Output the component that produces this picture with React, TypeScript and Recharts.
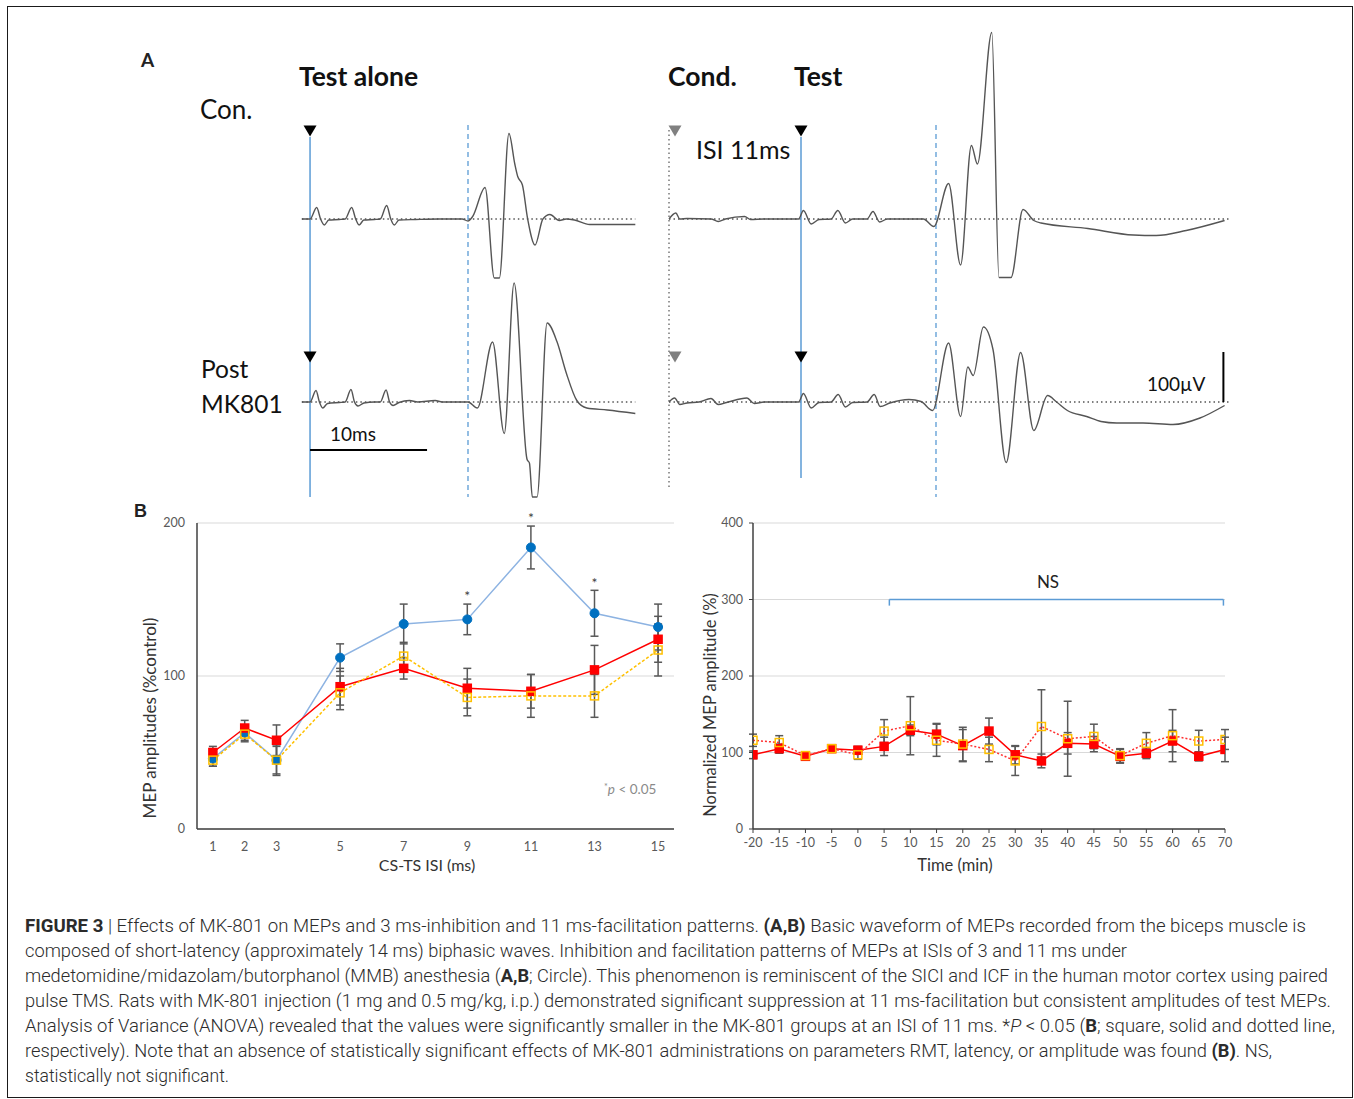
import React from "react";
import {
  LineChart,
  Line,
  XAxis,
  YAxis,
  CartesianGrid,
  ErrorBar,
  ReferenceLine,
  ReferenceDot,
} from "recharts";

// ---------- panel A: MEP traces, [time (ms), amplitude (µV)] ----------
// left column: t = 0 at the test stimulus
const conTestAlone: [number, number][] = [
  [-0.7, 0], [0, 0], [0.57, 23], [0.9, 0], [1.22, -12], [1.6, -2], [2.5, -1], [3.0, 0],
  [3.56, 23], [3.9, 0], [4.19, -12], [4.6, -2], [5.5, -1], [6.0, 0], [6.55, 27], [6.9, 0],
  [7.2, -12], [7.6, -2], [9, -1], [11, 0], [13, 0], [13.5, -4], [13.9, 5], [14.96, 63],
  [15.75, -118], [16.18, -118], [17.0, 171], [17.5, 110], [17.75, 85], [18.15, 68], [18.6, 0],
  [19.23, -52], [19.9, 0], [20.5, 9], [21.3, -3], [21.9, 0], [22.6, -2], [23.9, -11], [27.8, -11],
];
const postTestAlone: [number, number][] = [
  [-0.7, 0], [0, 0], [0.51, 23], [0.8, 0], [1.08, -12], [1.5, -3], [2.5, -1], [3.0, 0],
  [3.5, 25], [3.8, 0], [4.1, -8], [4.6, -2], [5.5, 0], [6.0, 0], [6.5, 24], [6.8, 0],
  [7.1, -7], [7.6, -1], [8.5, 3], [9.2, 0], [10.7, 3], [11.3, 0], [13.5, 0], [14.3, -12],
  [15.6, 120], [16.6, -63], [17.44, 238], [18.55, -115], [18.75, -122], [19.0, -190],
  [19.4, -190], [20.26, 158], [21.1, 121], [21.9, 58], [22.8, 3], [23.65, -12], [25.4, -16],
  [27.8, -23],
];
// right column: t = 0 at the conditioning stimulus, test at 11 ms
const conPaired: [number, number][] = [
  [0, 0], [0.57, 12], [0.9, 0], [1.5, 1], [3.5, 0], [4.1, -5], [4.7, 0], [6.3, 5], [6.8, -1],
  [7.9, 0], [10.8, 0], [11.2, 17], [11.85, -10], [12.5, -1], [13.5, 0], [14.07, 17],
  [14.7, -8], [15.3, 0], [16.5, 0], [17.0, 15], [17.55, -6], [18.2, 0], [21.2, 0],
  [22.07, -15], [23.3, 71], [24.3, -92], [25.2, 147], [25.7, 110], [26.9, 373], [27.5, -117],
  [28.5, -117], [29.5, 19], [30.4, -3], [31.0, -8], [34.9, -19], [38.7, -32], [40.6, -33],
  [43.1, -23], [46.3, -3],
];
const postPaired: [number, number][] = [
  [0, 0], [0.47, 8], [0.9, -5], [1.5, -2], [2.5, 0], [3.5, 7], [4.1, -5], [4.8, -1],
  [6.5, 8], [7.1, -3], [8, 0], [10.8, 0], [11.2, 17], [11.85, -12], [12.5, -1], [13.5, 0],
  [14.1, 15], [14.7, -10], [15.3, -1], [16.5, 0], [17.1, 15], [17.6, -9], [18.4, -2],
  [20.0, 5], [21.0, 1], [21.97, -17], [23.3, 118], [24.3, -29], [24.9, 70], [25.35, 53],
  [26.2, 150], [27.0, 105], [28.1, -121], [29.3, 99], [30.4, -57], [31.55, 13], [32.3, 0],
  [33.2, -17], [34.8, -29], [36.0, -39], [37.3, -42], [39.5, -42], [42.0, -45], [44.25, -32],
  [46.3, -7],
];

// ---------- panel B left: MEP amplitude vs CS-TS ISI ----------
const isiMs = [1, 2, 3, 5, 7, 9, 11, 13, 15];
const ctrlMean = [46, 63, 45, 112, 134, 137, 184, 141, 132];
const ctrlErr = [5, 5, 10, 9, 13, 10, 14, 15, 15];
const mk1Mean = [50, 66, 58, 93, 105, 92, 90, 104, 124];
const mk1Err = [4, 5, 10, 12, 7, 13, 11, 16, 15];
const mk05Mean = [45, 62, 45, 89, 113, 86, 87, 87, 117];
const mk05Err = [4, 5, 9, 11, 9, 12, 14, 14, 17];
const sigIsi = [9, 11, 13];

// ---------- panel B right: normalized MEP vs time ----------
const timeMin = [-20, -15, -10, -5, 0, 5, 10, 15, 20, 25, 30, 35, 40, 45, 50, 55, 60, 65, 70];
const mk1Time = [97, 105, 95, 105, 103, 108, 129, 124, 109, 128, 97, 89, 112, 111, 95, 99, 115, 95, 104];
const mk1TimeErr = [5, 6, 5, 3, 5, 12, 7, 14, 21, 17, 12, 9, 14, 10, 9, 7, 14, 6, 16];
const mk05Time = [116, 113, 96, 105, 97, 128, 135, 116, 111, 104, 89, 134, 118, 121, 96, 112, 122, 115, 117];
const mk05TimeErr = [8, 9, 5, 3, 6, 15, 38, 21, 22, 16, 19, 48, 49, 16, 9, 14, 34, 14, 13];

const isiData = isiMs.map((x, i) => ({
  x,
  ctrl: ctrlMean[i],
  ctrlErr: ctrlErr[i],
  mk1: mk1Mean[i],
  mk1Err: mk1Err[i],
  mk05: mk05Mean[i],
  mk05Err: mk05Err[i],
}));
const timeData = timeMin.map((x, i) => ({
  x,
  mk1: mk1Time[i],
  mk1Err: mk1TimeErr[i],
  mk05: mk05Time[i],
  mk05Err: mk05TimeErr[i],
}));
const pts = (a: [number, number][]) => a.map(([t, v]) => ({ t, v }));

const TRACE = "#555555";
const STIM_BLUE = "#5b9bd5";
const TICK = { fill: "#595959", fontSize: 12.5, fontFamily: "Lato" };
const AXIS = { stroke: "#404040", strokeWidth: 1.5 };

const tri = (color: string) => (p: any) => (
  <path d={`M${p.cx - 6.5},${p.cy - 5.5} L${p.cx + 6.5},${p.cy - 5.5} L${p.cx},${p.cy + 5.5} Z`} fill={color} />
);
const square = (fill: string, stroke: string, size: number) => (p: any) => (
  <rect
    key={`sq-${p.index}`}
    x={p.cx - size / 2}
    y={p.cy - size / 2}
    width={size}
    height={size}
    fill={fill}
    stroke={stroke}
    strokeWidth={1.5}
  />
);

function TraceLine({ data, axis }: { data: [number, number][]; axis: string }) {
  return (
    <Line
      yAxisId={axis}
      data={pts(data)}
      dataKey="v"
      type="monotone"
      stroke={TRACE}
      strokeWidth={1.4}
      dot={false}
      isAnimationActive={false}
    />
  );
}

function baseline(axis: string, t0: number, t1: number) {
  return (
    <ReferenceLine
      yAxisId={axis}
      segment={[{ x: t0, y: 0 }, { x: t1, y: 0 }]}
      stroke="#555"
      strokeWidth={1.5}
      strokeDasharray="1.5 3"
    />
  );
}

function PanelA() {
  return (
    <>
      {/* left column: test alone */}
      <div style={{ position: "absolute", left: 296, top: 20 }}>
        <LineChart width={344} height={480} margin={{ top: 0, right: 0, bottom: 0, left: 0 }}>
          <XAxis type="number" dataKey="t" domain={[-1.2, 28.2]} hide allowDataOverflow />
          <YAxis yAxisId="top" type="number" domain={[-562, 398]} hide allowDataOverflow />
          <YAxis yAxisId="bottom" type="number" domain={[-196, 764]} hide allowDataOverflow />
          {baseline("top", -0.7, 27.8)}
          {baseline("bottom", -0.7, 27.8)}
          <ReferenceLine yAxisId="top" segment={[{ x: 0, y: 164 }, { x: 0, y: -556 }]} stroke={STIM_BLUE} strokeWidth={1.5} />
          <ReferenceLine yAxisId="top" segment={[{ x: 13.5, y: 188 }, { x: 13.5, y: -556 }]} stroke={STIM_BLUE} strokeWidth={1.3} strokeDasharray="5 4" />
          <ReferenceLine yAxisId="bottom" segment={[{ x: 0, y: -96 }, { x: 10, y: -96 }]} stroke="#000" strokeWidth={2} />
          <ReferenceDot yAxisId="top" x={0} y={176} r={0} shape={tri("#000")} />
          <ReferenceDot yAxisId="bottom" x={0} y={90} r={0} shape={tri("#000")} />
          <TraceLine data={conTestAlone} axis="top" />
          <TraceLine data={postTestAlone} axis="bottom" />
        </LineChart>
      </div>
      {/* right column: conditioning + test */}
      <div style={{ position: "absolute", left: 657, top: 20 }}>
        <LineChart width={582} height={480} margin={{ top: 0, right: 0, bottom: 0, left: 0 }}>
          <XAxis type="number" dataKey="t" domain={[-1, 47.5]} hide allowDataOverflow />
          <YAxis yAxisId="top" type="number" domain={[-562, 398]} hide allowDataOverflow />
          <YAxis yAxisId="bottom" type="number" domain={[-196, 764]} hide allowDataOverflow />
          {baseline("top", 0, 46.7)}
          {baseline("bottom", 0, 46.7)}
          <ReferenceLine yAxisId="top" segment={[{ x: 0, y: 178 }, { x: 0, y: -542 }]} stroke="#777" strokeWidth={1.5} strokeDasharray="1.5 3" />
          <ReferenceLine yAxisId="top" segment={[{ x: 11, y: 164 }, { x: 11, y: -518 }]} stroke={STIM_BLUE} strokeWidth={1.5} />
          <ReferenceLine yAxisId="top" segment={[{ x: 22.25, y: 188 }, { x: 22.25, y: -556 }]} stroke={STIM_BLUE} strokeWidth={1.3} strokeDasharray="5 4" />
          <ReferenceLine yAxisId="bottom" segment={[{ x: 46.2, y: 0 }, { x: 46.2, y: 100 }]} stroke="#000" strokeWidth={2} />
          <ReferenceDot yAxisId="top" x={0.5} y={176} r={0} shape={tri("#808080")} />
          <ReferenceDot yAxisId="bottom" x={0.5} y={90} r={0} shape={tri("#808080")} />
          <ReferenceDot yAxisId="top" x={11} y={176} r={0} shape={tri("#000")} />
          <ReferenceDot yAxisId="bottom" x={11} y={90} r={0} shape={tri("#000")} />
          <TraceLine data={conPaired} axis="top" />
          <TraceLine data={postPaired} axis="bottom" />
        </LineChart>
      </div>
    </>
  );
}

function IsiChart() {
  return (
    <div style={{ position: "absolute", left: 120, top: 505 }}>
      <LineChart width={574} height={364} data={isiData} margin={{ top: 18, right: 20, bottom: 0, left: 0 }}>
        <CartesianGrid vertical={false} stroke="#d9d9d9" />
        <XAxis
          type="number"
          dataKey="x"
          domain={[0.5, 15.5]}
          ticks={isiMs}
          tick={TICK}
          tickLine={false}
          axisLine={AXIS}
          tickMargin={7}
          height={40}
          allowDataOverflow
        />
        <YAxis
          type="number"
          domain={[0, 200]}
          ticks={[0, 100, 200]}
          tick={TICK}
          tickLine={false}
          axisLine={AXIS}
          width={77}
          tickMargin={6}
          allowDataOverflow
        />
        {sigIsi.map((s) => {
          const i = isiMs.indexOf(s);
          return (
            <ReferenceDot
              key={s}
              x={s}
              y={ctrlMean[i] + ctrlErr[i] + 5}
              r={0}
              ifOverflow="visible"
              label={{ value: "*", position: "center", fill: "#404040", fontSize: 14, fontFamily: "Lato" }}
            />
          );
        })}
        <Line
          dataKey="ctrl"
          type="linear"
          stroke="#8db3e2"
          strokeWidth={1.5}
          dot={{ r: 4.5, fill: "#0070c0", stroke: "#0070c0", strokeWidth: 1 }}
          isAnimationActive={false}
        >
          <ErrorBar dataKey="ctrlErr" width={4} stroke="#595959" strokeWidth={1.5} direction="y" />
        </Line>
        <Line
          dataKey="mk1"
          type="linear"
          stroke="#ff0000"
          strokeWidth={1.5}
          dot={square("#ff0000", "#ff0000", 8)}
          isAnimationActive={false}
        >
          <ErrorBar dataKey="mk1Err" width={4} stroke="#595959" strokeWidth={1.5} direction="y" />
        </Line>
        <Line
          dataKey="mk05"
          type="linear"
          stroke="#ffc000"
          strokeWidth={1.5}
          strokeDasharray="3 2"
          dot={square("none", "#ffc000", 8)}
          isAnimationActive={false}
        >
          <ErrorBar dataKey="mk05Err" width={4} stroke="#595959" strokeWidth={1.5} direction="y" />
        </Line>
      </LineChart>
    </div>
  );
}

function TimeChart() {
  return (
    <div style={{ position: "absolute", left: 690, top: 505 }}>
      <LineChart width={555} height={364} data={timeData} margin={{ top: 18, right: 20, bottom: 0, left: 0 }}>
        <CartesianGrid vertical={false} stroke="#d9d9d9" />
        <XAxis
          type="number"
          dataKey="x"
          domain={[-20, 70]}
          ticks={timeMin}
          tick={TICK}
          tickLine={{ stroke: "#404040" }}
          tickSize={4}
          axisLine={AXIS}
          tickMargin={5}
          height={40}
          allowDataOverflow
        />
        <YAxis
          type="number"
          domain={[0, 400]}
          ticks={[0, 100, 200, 300, 400]}
          tick={TICK}
          tickLine={{ stroke: "#404040" }}
          tickSize={4}
          axisLine={AXIS}
          width={63}
          tickMargin={6}
          allowDataOverflow
        />
        <ReferenceLine segment={[{ x: 6, y: 300 }, { x: 69.7, y: 300 }]} stroke={STIM_BLUE} strokeWidth={1.5} />
        <ReferenceLine segment={[{ x: 6, y: 300 }, { x: 6, y: 292 }]} stroke={STIM_BLUE} strokeWidth={1.5} />
        <ReferenceLine segment={[{ x: 69.7, y: 300 }, { x: 69.7, y: 292 }]} stroke={STIM_BLUE} strokeWidth={1.5} />
        <Line
          dataKey="mk1"
          type="linear"
          stroke="#ff0000"
          strokeWidth={1.5}
          dot={square("#ff0000", "#ff0000", 8)}
          isAnimationActive={false}
        >
          <ErrorBar dataKey="mk1Err" width={4} stroke="#595959" strokeWidth={1.5} direction="y" />
        </Line>
        <Line
          dataKey="mk05"
          type="linear"
          stroke="#ff3030"
          strokeWidth={1.5}
          strokeDasharray="2 2"
          dot={square("none", "#ffc000", 8)}
          isAnimationActive={false}
        >
          <ErrorBar dataKey="mk05Err" width={4} stroke="#595959" strokeWidth={1.5} direction="y" />
        </Line>
      </LineChart>
    </div>
  );
}

const captionLines: { parts: [string, string][]; w: number }[] = [
  {
    parts: [
      ["b", "FIGURE 3"],
      ["n", " | Effects of MK-801 on MEPs and 3 ms-inhibition and 11 ms-facilitation patterns. "],
      ["b", "(A,B)"],
      ["n", " Basic waveform of MEPs recorded from the biceps muscle is"],
    ],
    w: 1281,
  },
  {
    parts: [["n", "composed of short-latency (approximately 14 ms) biphasic waves. Inhibition and facilitation patterns of MEPs at ISIs of 3 and 11 ms under"]],
    w: 1102,
  },
  {
    parts: [
      ["n", "medetomidine/midazolam/butorphanol (MMB) anesthesia ("],
      ["b", "A,B"],
      ["n", "; Circle). This phenomenon is reminiscent of the SICI and ICF in the human motor cortex using paired"],
    ],
    w: 1303,
  },
  {
    parts: [["n", "pulse TMS. Rats with MK-801 injection (1 mg and 0.5 mg/kg, i.p.) demonstrated significant suppression at 11 ms-facilitation but consistent amplitudes of test MEPs."]],
    w: 1306,
  },
  {
    parts: [
      ["n", "Analysis of Variance (ANOVA) revealed that the values were significantly smaller in the MK-801 groups at an ISI of 11 ms. *"],
      ["i", "P"],
      ["n", " < 0.05 ("],
      ["b", "B"],
      ["n", "; square, solid and dotted line,"],
    ],
    w: 1310,
  },
  {
    parts: [
      ["n", "respectively). Note that an absence of statistically significant effects of MK-801 administrations on parameters RMT, latency, or amplitude was found "],
      ["b", "(B)"],
      ["n", ". NS,"],
    ],
    w: 1247,
  },
  { parts: [["n", "statistically not significant."]], w: 204 },
];

function Overlay() {
  const big = { fontFamily: "Lato", fontSize: 25, fill: "#111" };
  return (
    <svg width={1354} height={1099} style={{ position: "absolute", left: 0, top: 0, pointerEvents: "none" }}>
      <text x={141} y={67} fontFamily="Lato" fontWeight={700} fontSize={19} fill="#222">A</text>
      <text x={299} y={86} {...big} fontWeight={700} fontSize={26.5}>Test alone</text>
      <text x={200} y={119} {...big} fontSize={26}>Con.</text>
      <text x={668} y={86} {...big} fontWeight={700} fontSize={26.5}>Cond.</text>
      <text x={794} y={86} {...big} fontWeight={700} fontSize={26.5}>Test</text>
      <text x={696} y={159} {...big} fontSize={25}>ISI 11ms</text>
      <text x={201} y={378} {...big} fontSize={24.5}>Post</text>
      <text x={201} y={413} {...big} fontSize={24.5}>MK801</text>
      <text x={330} y={441} {...big} fontSize={19}>10ms</text>
      <text x={1147} y={391} {...big} fontSize={19}>100µV</text>

      <text x={134} y={517} fontFamily="Liberation Sans" fontWeight={700} fontSize={18} fill="#222">B</text>
      <text x={604} y={794} fontFamily="Lato" fontSize={13.5} fill="#8a8a8a">
        <tspan fontSize={9} dy={-4}>*</tspan>
        <tspan dy={4} fontStyle="italic">p</tspan>
        <tspan> &lt; 0.05</tspan>
      </text>
      <text x={427} y={871} textAnchor="middle" fontFamily="Lato" fontSize={16} fill="#333">CS-TS ISI (ms)</text>
      <text
        x={0}
        y={0}
        transform="translate(156 718) rotate(-90)"
        textAnchor="middle"
        fontFamily="Lato"
        fontSize={17}
        fill="#333"
      >
        MEP amplitudes (%control)
      </text>
      <text x={955} y={871} textAnchor="middle" fontFamily="Lato" fontSize={16.5} fill="#333">Time (min)</text>
      <text
        x={0}
        y={0}
        transform="translate(716 705) rotate(-90)"
        textAnchor="middle"
        fontFamily="Lato"
        fontSize={16.5}
        fill="#333"
      >
        Normalized MEP amplitude (%)
      </text>
      <text x={1048} y={588} textAnchor="middle" fontFamily="Lato" fontSize={17} fill="#222">NS</text>

      {captionLines.map((ln, i) => (
        <text
          key={i}
          x={25}
          y={932 + i * 25}
          fontFamily="Roboto"
          fontSize={17.5}
          fontWeight={300}
          fill="#2b2b2b"
          textLength={ln.w}
          lengthAdjust="spacingAndGlyphs"
        >
          {ln.parts.map(([k, s], j) => (
            <tspan
              key={j}
              fontWeight={k === "b" ? 700 : 300}
              fontStyle={k === "i" ? "italic" : "normal"}
            >
              {s}
            </tspan>
          ))}
        </text>
      ))}
    </svg>
  );
}

export default function App() {
  return (
    <div
      style={{
        position: "absolute",
        left: 0,
        top: 0,
        width: 1354,
        height: 1099,
        background: "#fff",
        overflow: "hidden",
      }}
    >
      <div
        style={{
          position: "absolute",
          left: 7,
          top: 6,
          width: 1346,
          height: 1092,
          border: "1px solid #1a1a1a",
          boxSizing: "border-box",
        }}
      />
      <PanelA />
      <IsiChart />
      <TimeChart />
      <Overlay />
    </div>
  );
}
